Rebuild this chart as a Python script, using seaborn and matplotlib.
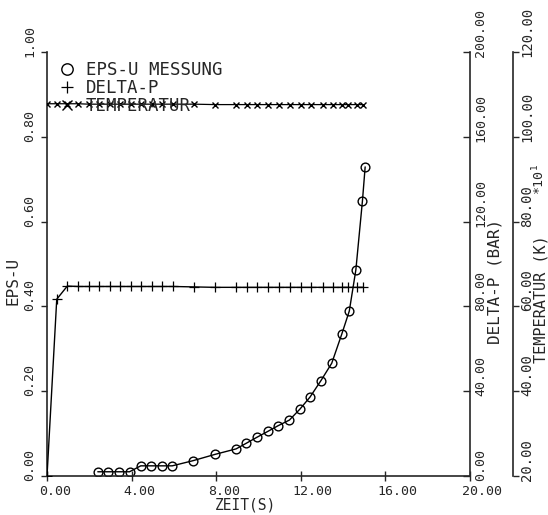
import matplotlib
matplotlib.use("Agg")
import matplotlib.pyplot as plt
import matplotlib.transforms as mtransforms
import seaborn as sns
import pandas as pd

# ---- data ----
eps_time = [2.40, 2.90, 3.40, 3.90, 4.43, 4.93, 5.44, 5.92, 6.89, 7.94, 8.94, 9.41,
            9.91, 10.43, 10.90, 11.46, 11.96, 12.43, 12.95, 13.46, 13.93, 14.29,
            14.60, 14.91, 15.04]
eps_u = [0.010, 0.010, 0.010, 0.010, 0.024, 0.024, 0.024, 0.024, 0.036, 0.051, 0.064,
         0.077, 0.091, 0.105, 0.118, 0.132, 0.158, 0.186, 0.225, 0.266, 0.334, 0.389,
         0.486, 0.648, 0.729]

p_time = [0.00, 0.46, 0.96, 1.48, 1.98, 2.47, 2.97, 3.45, 3.95, 4.45, 4.95, 5.45, 5.97,
          6.95, 7.93, 8.92, 9.44, 9.94, 10.46, 10.98, 11.49, 12.00, 12.50, 13.03,
          13.50, 13.93, 14.25, 14.64, 14.93]
delta_p = [0.0, 83.4, 89.6, 89.4, 89.4, 89.4, 89.4, 89.4, 89.4, 89.4, 89.4, 89.4, 89.4,
           89.2, 89.0, 89.0, 89.0, 89.0, 89.0, 89.0, 89.0, 89.0, 89.0, 89.0,
           89.0, 89.0, 89.0, 89.0, 89.0]
temperatur = [107.8, 107.8, 107.8, 107.8, 107.7, 107.7, 107.7, 107.7, 107.7, 107.7,
              107.7, 107.7, 107.7, 107.7, 107.6, 107.6, 107.6, 107.6, 107.6, 107.6,
              107.6, 107.6, 107.6, 107.6, 107.6, 107.6, 107.6, 107.6, 107.6]

x_ticks = [0, 4, 8, 12, 16, 20]
eps_ticks = [0.0, 0.2, 0.4, 0.6, 0.8, 1.0]
p_ticks = [0, 40, 80, 120, 160, 200]
t_ticks = [20, 40, 60, 80, 100, 120]

labels = ["EPS-U MESSUNG", "DELTA-P", "TEMPERATUR"]

df_eps = pd.DataFrame({"t": eps_time, "v": eps_u})
df_p = pd.DataFrame({"t": p_time, "v": delta_p})
df_T = pd.DataFrame({"t": p_time, "v": temperatur})

# ---- style ----
sns.set_style("white")
plt.rcParams["font.family"] = ["DejaVu Sans Mono", "DejaVu Sans"]
plt.rcParams["axes.linewidth"] = 1.2

fig = plt.figure(figsize=(5.48, 5.15), dpi=100)
ax = fig.add_axes([0.0858, 0.0757, 0.772, 0.8233])
ax2 = ax.twinx()
ax3 = ax.twinx()

sns.lineplot(data=df_eps, x="t", y="v", ax=ax, color="black", lw=1.0,
             marker="o", markersize=6.3, markerfacecolor="none",
             markeredgecolor="black", markeredgewidth=1.0,
             estimator=None, sort=False, legend=False)
sns.lineplot(data=df_p, x="t", y="v", ax=ax2, color="black", lw=1.0,
             marker="+", markersize=6.5, markeredgewidth=0.9,
             markeredgecolor="black",
             estimator=None, sort=False, legend=False)
sns.lineplot(data=df_T, x="t", y="v", ax=ax3, color="black", lw=0.9,
             marker="x", markersize=5, markeredgewidth=1.0,
             markeredgecolor="black",
             estimator=None, sort=False, legend=False)

TICK_FS = 9.5
LAB_FS = 11.5

# main axes
ax.set_xlim(0, 20)
ax.set_ylim(0, 1)
ax.set_xticks(x_ticks)
ax.set_xticklabels([f"{v:.2f}" for v in x_ticks], fontsize=9.5)
ax.set_yticks(eps_ticks)
ax.set_yticklabels([f"{v:.2f}" for v in eps_ticks], fontsize=TICK_FS)
ax.spines["top"].set_visible(False)
ax.spines["right"].set_visible(False)
ax.tick_params(axis="y", direction="out", length=4, width=1.0, pad=4,
               labelrotation=90, left=True)
ax.tick_params(axis="x", direction="inout", length=7, width=1.0, pad=3, bottom=True)
ax.set_xlabel("ZEIT(S)", fontsize=10.5)
ax.set_ylabel("EPS-U", fontsize=LAB_FS)
ax.xaxis.set_label_coords(0.468, -0.050)
ax.xaxis.label.set_va("top")
ax.yaxis.set_label_coords(-0.080, 0.46)
ax.yaxis.label.set_va("center")

# delta-p axis
ax2.set_ylim(0, 200)
ax2.set_yticks(p_ticks)
ax2.set_yticklabels([f"{v:.2f}" for v in p_ticks], fontsize=TICK_FS)
for s in ["top", "left", "bottom"]:
    ax2.spines[s].set_visible(False)
ax2.spines["right"].set_linewidth(1.2)
ax2.tick_params(axis="y", direction="in", length=5, width=1.0, pad=3,
                labelrotation=90, right=True)
ax2.set_ylabel("DELTA-P (BAR)", fontsize=LAB_FS, rotation=90)
ax2.yaxis.set_label_coords(1.060, 0.458)
ax2.yaxis.label.set_va("center")
ax2.yaxis.label.set_ha("center")

# temperature axis
ax3.set_ylim(20, 120)
ax3.set_yticks(t_ticks)
ax3.set_yticklabels([f"{v:.2f}" for v in t_ticks], fontsize=TICK_FS)
for s in ["top", "left", "bottom"]:
    ax3.spines[s].set_visible(False)
ax3.spines["right"].set_position(("axes", 1.1017))
ax3.spines["right"].set_linewidth(1.2)
ax3.tick_params(axis="y", direction="out", length=4, width=1.0, pad=1,
                labelrotation=90, right=True)
ax3.set_ylabel("TEMPERATUR (K)", fontsize=11, rotation=90)
ax3.yaxis.set_label_coords(1.168, 0.417)
ax3.yaxis.label.set_va("center")
ax3.yaxis.label.set_ha("center")
ax3.text(1.164, 0.700, r"*10$^{1}$", transform=ax3.transAxes, rotation=90,
         ha="center", va="center", fontsize=9.5)

# tick label alignment (text starts at tick, reading upwards)
yoff = mtransforms.ScaledTranslation(0, -0.05, fig.dpi_scale_trans)
for a in (ax, ax2, ax3):
    for lab in a.get_yticklabels():
        lab.set_va("bottom")
        lab.set_transform(lab.get_transform() + yoff)
off = mtransforms.ScaledTranslation(-0.08, 0, fig.dpi_scale_trans)
for lab in ax.get_xticklabels():
    lab.set_ha("left")
    lab.set_transform(lab.get_transform() + off)

# legend
handles = [ax.lines[0], ax2.lines[0], ax3.lines[0]]
leg = ax3.legend(handles, labels, loc="upper left", bbox_to_anchor=(0.047, 0.979),
                 frameon=False, handlelength=0, handletextpad=1.1, borderpad=0,
                 borderaxespad=0, labelspacing=0.0, markerscale=1.3,
                 fontsize=12.5, numpoints=1)

fig.savefig("out.png", dpi=100, facecolor="white")
